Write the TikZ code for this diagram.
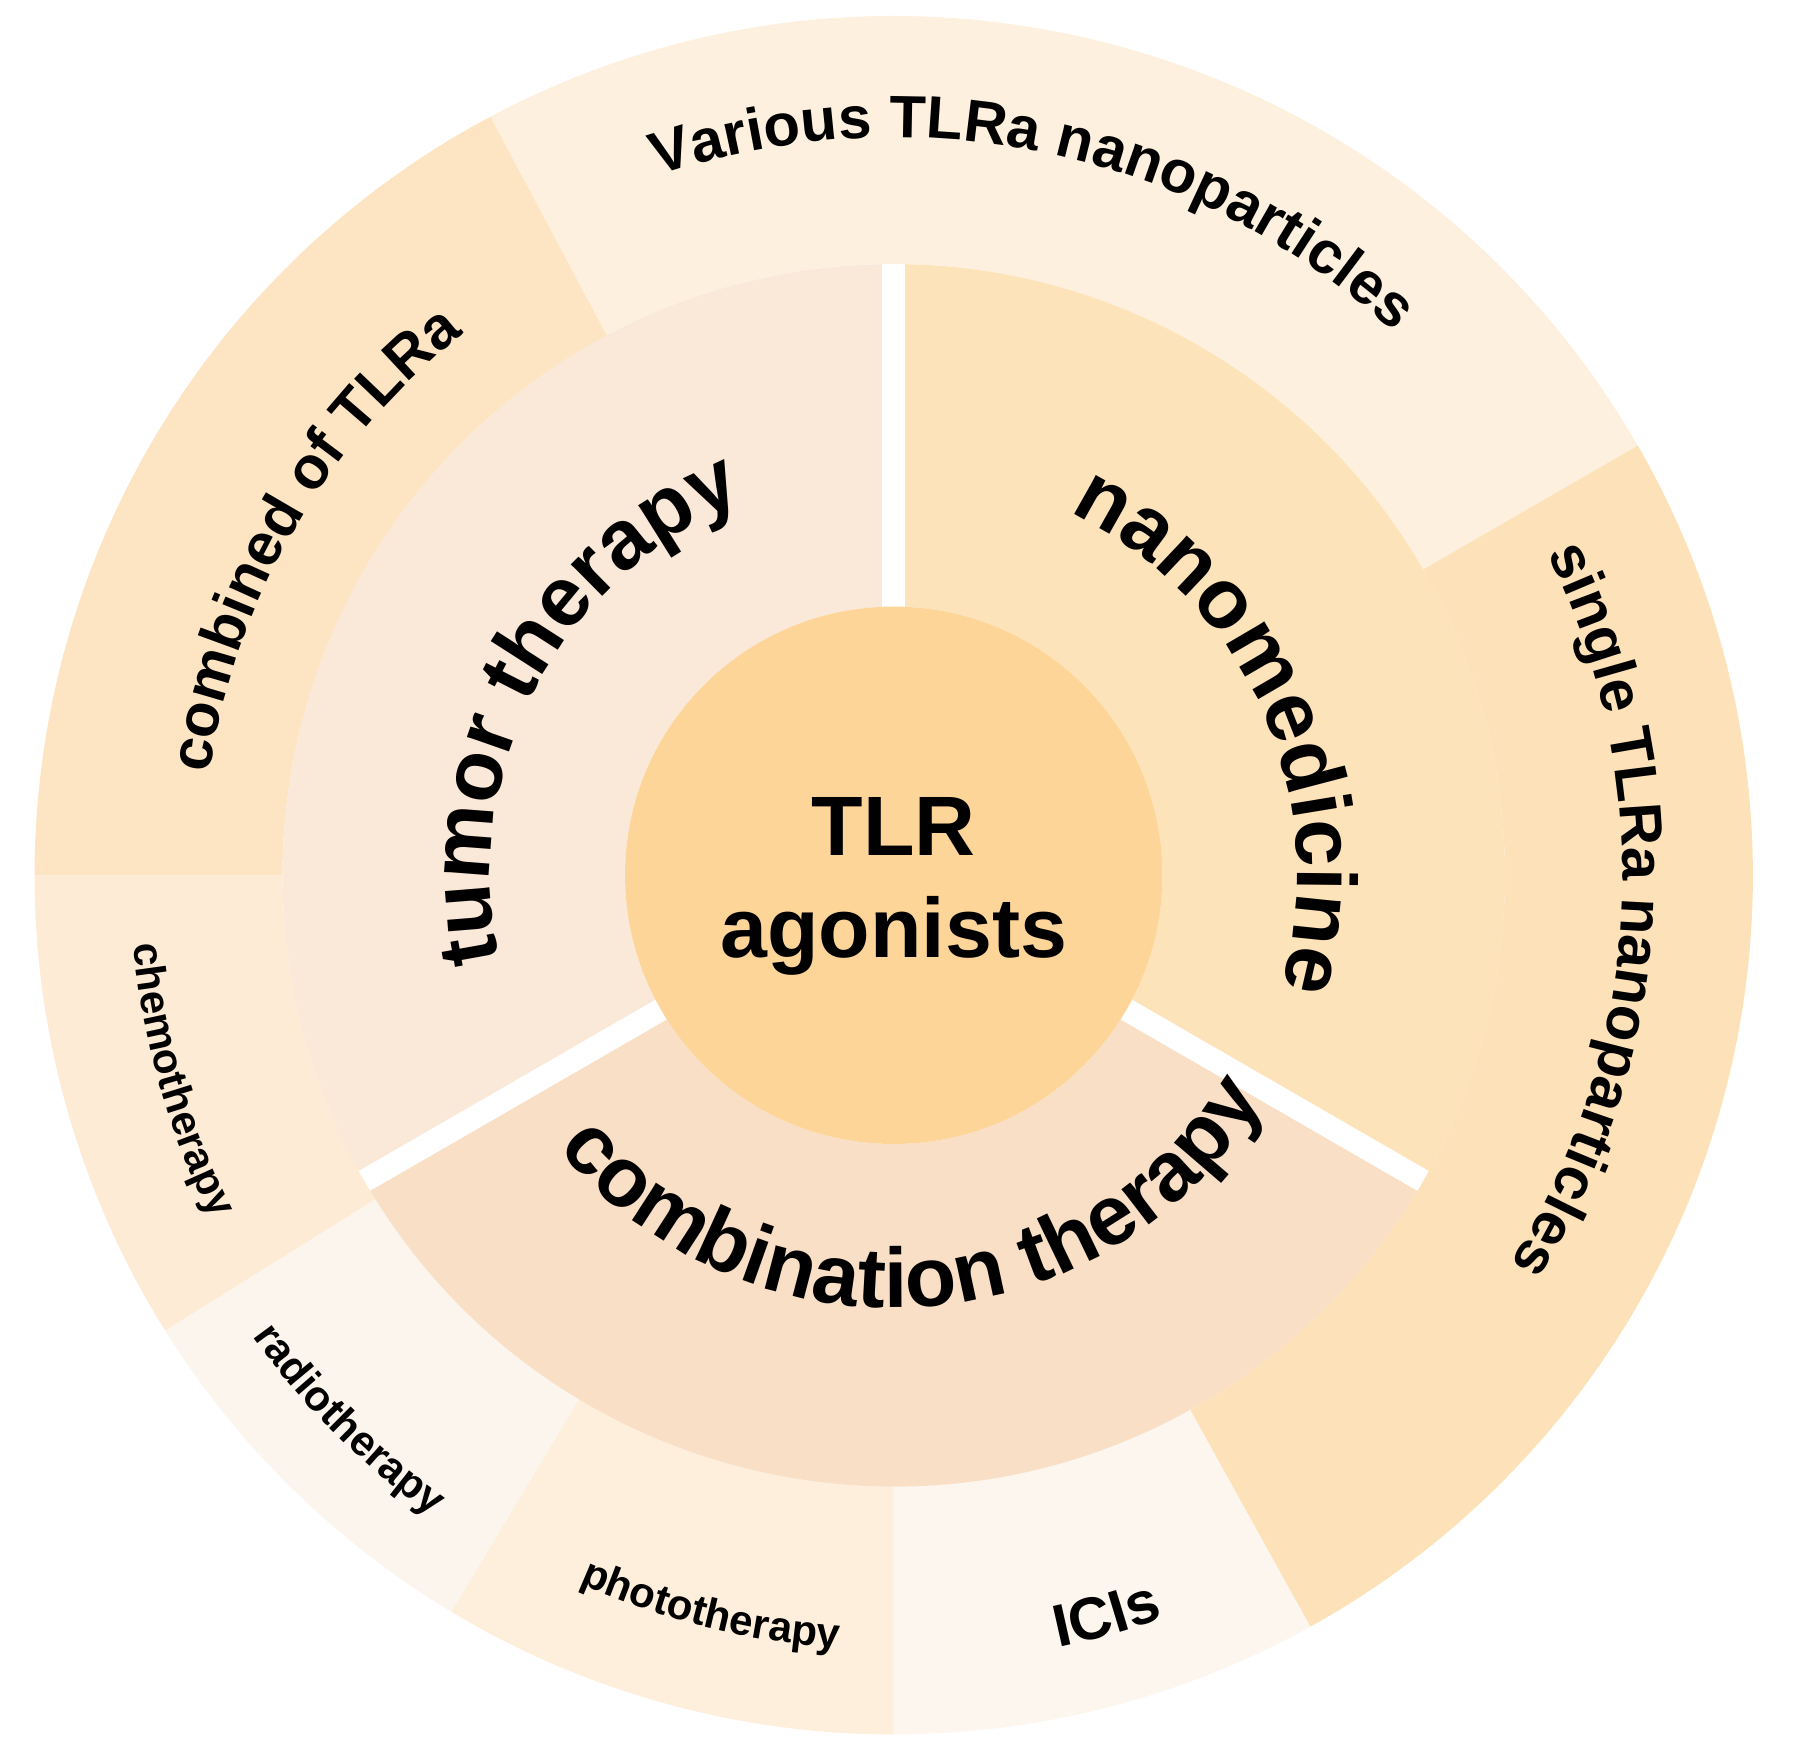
\documentclass[tikz,border=0pt]{standalone}
\usepackage{fontspec}
\setmainfont{Liberation Sans}
\usetikzlibrary{decorations.text}
\definecolor{ringcen}{HTML}{FDD598}
\definecolor{nanomed}{HTML}{FDE3BA}
\definecolor{combther}{HTML}{F8DFC6}
\definecolor{tumther}{HTML}{FAE8D8}
\definecolor{various}{HTML}{FEF0DE}
\definecolor{single}{HTML}{FDE2B9}
\definecolor{icis}{HTML}{FCF6EF}
\definecolor{photo}{HTML}{FEEFDC}
\definecolor{radio}{HTML}{FBF5EE}
\definecolor{chemo}{HTML}{FEEBD5}
\definecolor{combined}{HTML}{FDE5C4}
\newcommand\fntInner{\fontsize{24}{28}\selectfont\bfseries}
\newcommand\fntOuter{\fontsize{17}{20}\selectfont\bfseries}
\newcommand\fntSmall{\fontsize{12}{14}\selectfont\bfseries}
\newcommand\sector[5]{\fill[#5] (#1:#3) -- (#1:#4) arc[start angle=#1,end angle=#2,radius=#4] -- (#2:#3) arc[start angle=#2,end angle=#1,radius=#3] -- cycle;}
\begin{document}
\begin{tikzpicture}[
  x=0.011532cm, y=0.011532cm,
  arc label/.style={decorate, decoration={text along path, text align=center, text={#1}}},
  gap/.style={white, line width=6.5pt}
  ]
\useasboundingbox (-775,-760) rectangle (785,759);
% outer ring
\sector{28}{118}{530}{745}{various}
\sector{-61}{30}{530}{745}{single}
\sector{-90}{-61}{530}{745}{icis}
\sector{-121}{-90}{530}{745}{photo}
\sector{-148}{-121}{530}{745}{radio}
\sector{180}{212}{530}{745}{chemo}
\sector{118}{180}{530}{745}{combined}
% middle ring
\sector{-30}{90}{233}{530}{nanomed}
\sector{210}{330}{233}{530}{combther}
\sector{90}{210}{233}{530}{tumther}
\foreach \a in {90,-30,210}
  \draw[gap] (\a:233) -- (\a:530);
% centre
\fill[ringcen] (0,0) circle (233);
\node[font=\fontsize{24}{29}\selectfont\bfseries, align=center] (centre) at (0,-10) {TLR\\agonists};
% labels
\path[arc label={|\fntOuter|Various TLRa nanoparticles}] (128:640) arc[start angle=128,end angle=28,radius=640];
\path[arc label={|\fntOuter|single TLRa nanoparticles}] (47:632) arc[start angle=47,end angle=-53,radius=632];
\path[arc label={|\fntOuter|combined of TLRa}] (200:600) arc[start angle=200,end angle=100,radius=600];
\path[arc label={|\fntSmall|chemotherapy}] (166:662) arc[start angle=166,end angle=226,radius=662];
\path[arc label={|\fntSmall|radiotherapy}] (195:685) arc[start angle=195,end angle=255,radius=685];
\path[arc label={|\fntSmall|phototherapy}] (226:672) arc[start angle=226,end angle=286,radius=672];
\path[arc label={|\fntOuter|ICIs}] (266:685) arc[start angle=266,end angle=306,radius=685];
\path[arc label={|\fntInner|nanomedicine}] (74:350) arc[start angle=74,end angle=-26,radius=350];
\path[arc label={|\fntInner|tumor therapy}] (202:350) arc[start angle=202,end angle=102,radius=350];
\path[arc label={|\fntInner|combination therapy}] (-160:375) arc[start angle=-160,end angle=-12,radius=375];
\end{tikzpicture}
\end{document}
